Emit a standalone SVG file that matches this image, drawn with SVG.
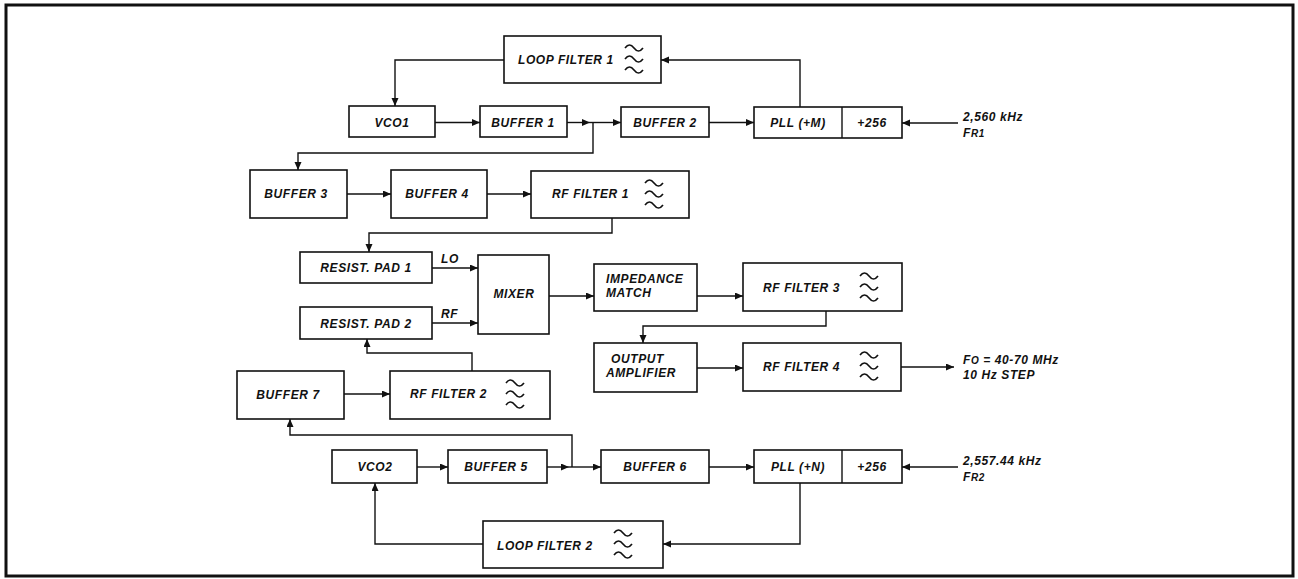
<svg xmlns="http://www.w3.org/2000/svg" xmlns:xlink="http://www.w3.org/1999/xlink" width="1298" height="579" viewBox="0 0 1298 579">
<style>
.bx{fill:#fff;stroke:#111;stroke-width:1.6}
.t{font-family:"Liberation Sans",Arial,sans-serif;font-weight:bold;font-style:italic;font-size:12px;fill:#111;letter-spacing:0.6px}
.m{text-anchor:middle}
.c{fill:none;stroke:#111;stroke-width:1.4}
.a{marker-end:url(#ah)}
.f{fill:none;stroke:#111;stroke-width:1.6}
</style>
<defs>
<marker id="ah" markerUnits="userSpaceOnUse" markerWidth="9" markerHeight="8" refX="8" refY="3.5" orient="auto">
<path d="M0,0 L8,3.5 L0,7 z" fill="#111"/>
</marker>
<g id="flt">
<path class="f" d="M0,4 Q4.5,-2 9,4 T18,4"/>
<path class="f" d="M0,15 Q4.5,9 9,15 T18,15"/>
<path class="f" d="M0,26 Q4.5,20 9,26 T18,26"/>
</g>
</defs>
<rect x="0" y="0" width="1298" height="579" fill="#fff"/>
<rect x="6" y="5" width="1287" height="571" fill="none" stroke="#111" stroke-width="3"/>

<g id="connectors">
<path class="c a" d="M504,60 H395 V106"/>
<path class="c a" d="M800,107 V60 H661"/>
<path class="c a" d="M958,123 H902"/>
<path class="c a" d="M435,122.5 H480"/>
<path class="c a" d="M567,122.5 H590"/>
<path class="c a" d="M590,122.5 H621"/>
<path class="c a" d="M593,122.5 V153 H298 V170"/>
<path class="c a" d="M709,122.5 H754"/>
<path class="c a" d="M347,194 H391"/>
<path class="c a" d="M487,194 H531"/>
<path class="c a" d="M612,218 V233 H369 V252"/>
<path class="c a" d="M432,268 H478"/>
<path class="c a" d="M432,323 H478"/>
<path class="c a" d="M549,296 H594"/>
<path class="c a" d="M697,296 H743"/>
<path class="c a" d="M826,311 V326 H643 V343"/>
<path class="c a" d="M697,368 H743"/>
<path class="c a" d="M901,367 H954"/>
<path class="c a" d="M472,371 V353 H367 V339"/>
<path class="c a" d="M344,394 H390"/>
<path class="c a" d="M417,467 H448"/>
<path class="c a" d="M547,467 H569"/>
<path class="c a" d="M569,467 H601"/>
<path class="c a" d="M572,467 V435 H290 V419"/>
<path class="c a" d="M709,467 H754"/>
<path class="c a" d="M958,467 H902"/>
<path class="c a" d="M800,483 V544 H663"/>
<path class="c a" d="M483,544 H375 V483"/>
</g>

<g id="loopfilter1"><rect class="bx" x="504" y="36" width="157" height="47"/><text class="t" x="518" y="64">LOOP FILTER 1</text><use xlink:href="#flt" x="625" y="44"/></g>
<g id="vco1"><rect class="bx" x="349" y="106" width="86" height="31"/><text class="t m" x="392" y="127">VCO1</text></g>
<g id="buffer1"><rect class="bx" x="480" y="106" width="87" height="31"/><text class="t m" x="523" y="127">BUFFER 1</text></g>
<g id="buffer2"><rect class="bx" x="621" y="107" width="88" height="30"/><text class="t m" x="665" y="127">BUFFER 2</text></g>
<g id="pll1"><rect class="bx" x="754" y="107" width="148" height="31"/><line class="c" x1="842" y1="107" x2="842" y2="138"/><text class="t m" x="798" y="127">PLL (+M)</text><text class="t m" x="872" y="127">+256</text></g>
<g id="fr1label"><text class="t" x="963" y="121">2,560 kHz</text><text class="t" x="963" y="137">F<tspan font-size="10">R1</tspan></text></g>

<g id="buffer3"><rect class="bx" x="250" y="170" width="97" height="48"/><text class="t m" x="296" y="198">BUFFER 3</text></g>
<g id="buffer4"><rect class="bx" x="391" y="170" width="96" height="48"/><text class="t m" x="437" y="198">BUFFER 4</text></g>
<g id="rffilter1"><rect class="bx" x="531" y="171" width="158" height="47"/><text class="t" x="552" y="198">RF FILTER 1</text><use xlink:href="#flt" x="645" y="179"/></g>

<g id="resistpad1"><rect class="bx" x="300" y="252" width="132" height="31"/><text class="t m" x="366" y="272">RESIST. PAD 1</text><text class="t" x="441" y="263" font-size="10">LO</text></g>
<g id="resistpad2"><rect class="bx" x="300" y="307" width="132" height="32"/><text class="t m" x="366" y="328">RESIST. PAD 2</text><text class="t" x="441" y="318" font-size="10">RF</text></g>
<g id="mixer"><rect class="bx" x="478" y="255" width="71" height="79"/><text class="t m" x="514" y="298">MIXER</text></g>
<g id="impedance"><rect class="bx" x="594" y="264" width="103" height="47"/><text class="t" x="606" y="283">IMPEDANCE</text><text class="t" x="606" y="297">MATCH</text></g>
<g id="rffilter3"><rect class="bx" x="743" y="263" width="159" height="48"/><text class="t" x="763" y="292">RF FILTER 3</text><use xlink:href="#flt" x="860" y="272"/></g>
<g id="outputamp"><rect class="bx" x="594" y="343" width="103" height="49"/><text class="t" x="611" y="363">OUTPUT</text><text class="t" x="606" y="377">AMPLIFIER</text></g>
<g id="rffilter4"><rect class="bx" x="743" y="343" width="158" height="48"/><text class="t" x="763" y="371">RF FILTER 4</text><use xlink:href="#flt" x="860" y="351"/></g>
<g id="outlabel"><text class="t" x="963" y="364">F<tspan font-size="10">O</tspan> = 40-70 MHz</text><text class="t" x="963" y="379">10 Hz STEP</text></g>

<g id="buffer7"><rect class="bx" x="237" y="371" width="107" height="48"/><text class="t m" x="288" y="399">BUFFER 7</text></g>
<g id="rffilter2"><rect class="bx" x="390" y="371" width="160" height="48"/><text class="t" x="410" y="398">RF FILTER 2</text><use xlink:href="#flt" x="506" y="379"/></g>

<g id="vco2"><rect class="bx" x="332" y="450" width="85" height="33"/><text class="t m" x="375" y="471">VCO2</text></g>
<g id="buffer5"><rect class="bx" x="448" y="450" width="99" height="33"/><text class="t m" x="496" y="471">BUFFER 5</text></g>
<g id="buffer6"><rect class="bx" x="601" y="450" width="108" height="33"/><text class="t m" x="655" y="471">BUFFER 6</text></g>
<g id="pll2"><rect class="bx" x="754" y="450" width="148" height="33"/><line class="c" x1="842" y1="450" x2="842" y2="483"/><text class="t m" x="798" y="471">PLL (+N)</text><text class="t m" x="872" y="471">+256</text></g>
<g id="fr2label"><text class="t" x="963" y="465">2,557.44 kHz</text><text class="t" x="963" y="481">F<tspan font-size="10">R2</tspan></text></g>
<g id="loopfilter2"><rect class="bx" x="483" y="521" width="180" height="47"/><text class="t" x="497" y="550">LOOP FILTER 2</text><use xlink:href="#flt" x="614" y="529"/></g>
</svg>
